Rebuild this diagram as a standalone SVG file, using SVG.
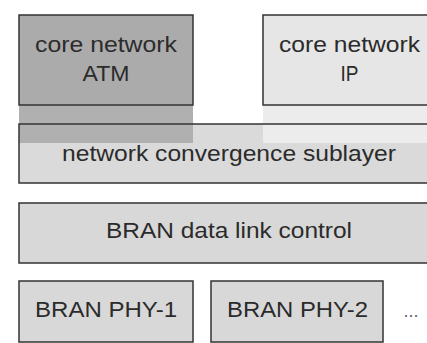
<svg xmlns="http://www.w3.org/2000/svg" width="427" height="343" viewBox="0 0 427 343">
<style>
.box{stroke:#333;stroke-width:1.5}
.nf{fill:none;stroke:#333;stroke-width:1.5}
.t{font-family:"Liberation Sans",Arial,sans-serif;font-size:22px;fill:#2b2b2b;text-anchor:middle}
</style>
<rect width="427" height="343" fill="#fff"/>
<g id="convergence">
<rect x="19" y="124" width="420" height="59" fill="#dadada" stroke="none"/>
<rect x="19" y="105" width="174" height="38" fill="#b0b0b0"/>
<rect x="263" y="105" width="176" height="38" fill="#ececec"/>
<rect x="19" y="124" width="420" height="59" class="nf"/>
<text class="t" x="229" y="161" textLength="334" lengthAdjust="spacingAndGlyphs">network convergence sublayer</text>
</g>
<g id="atm">
<rect x="19" y="15" width="174" height="90" class="box" fill="#ababab"/>
<text class="t" x="106" y="52" textLength="142" lengthAdjust="spacingAndGlyphs">core network</text>
<text class="t" x="106" y="81" textLength="47" lengthAdjust="spacingAndGlyphs">ATM</text>
</g>
<g id="ip">
<rect x="263" y="15" width="176" height="90" class="box" fill="#e6e6e6"/>
<text class="t" x="349.5" y="52" textLength="141" lengthAdjust="spacingAndGlyphs">core network</text>
<text class="t" x="349.5" y="81" textLength="18" lengthAdjust="spacingAndGlyphs">IP</text>
</g>
<g id="dlc">
<rect x="19" y="203" width="420" height="60" class="box" fill="#d8d8d8"/>
<text class="t" x="229" y="238" textLength="246" lengthAdjust="spacingAndGlyphs">BRAN data link control</text>
</g>
<g id="phy1">
<rect x="19" y="281" width="174" height="61" class="box" fill="#d8d8d8"/>
<text class="t" x="106" y="317" textLength="142" lengthAdjust="spacingAndGlyphs">BRAN PHY-1</text>
</g>
<g id="phy2">
<rect x="211" y="281" width="172" height="61" class="box" fill="#d8d8d8"/>
<text class="t" x="297.5" y="317" textLength="141" lengthAdjust="spacingAndGlyphs">BRAN PHY-2</text>
</g>
<text class="t" x="411" y="317" style="font-size:18px;fill:#666">...</text>
</svg>
